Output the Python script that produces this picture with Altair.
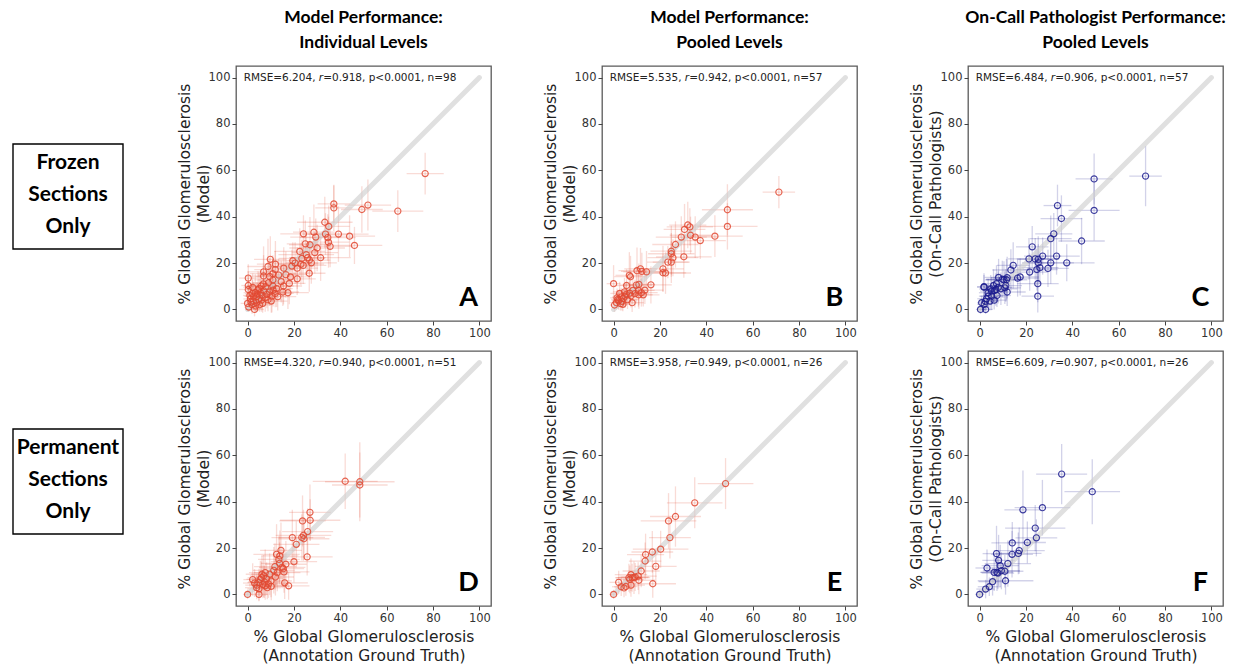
import altair as alt
import pandas as pd

TICKS = [0, 20, 40, 60, 80, 100]
RED = "#e24a33"
BLUE = "#1c1c8f"

# ---------------- Panel A (Frozen, model, individual levels) ----------------
A_x = [76.6, 64.8, 51.9, 49.3, 37.2, 37.2, 33.3, 35.0, 24.1, 28.6, 29.4, 33.6, 34.6, 39.2, 44.0, 46.1,
       35.6, 34.9, 24.9, 26.9, 25.3, 23.4, 25.9, 26.7, 27.5, 24.0, 31.5, 21.4, 21.4, 26.6, 19.1, 15.6,
       9.8, 8.8, 6.9, 6.9, 11.9, 10.9, 13.4, 9.5, 10.9, 10.9, 15.5, 18.0, 17.4, 15.2, 11.9, 10.5,
       10.2, 0.3, 0.3, 0.3, 5.9, 0.0, 2.6, 3.0, 4.0, 5.5, 6.5, 7.6, 1.9, 4.7, 8.3, 3.3, 2.6, 1.2,
       3.8, 5.2, 6.2, 7.0, 4.5, 2.0, 8.8, 9.5, 5.0, 3.5, 6.0, 1.5, 12.5, 13.0, 14.5, 16.5, 20.5,
       18.5, 22.5, 29.0, 30.0, 7.8, 2.2, 11.0, 4.2, 0.5, 9.0, 19.5, 23.0, 1.0, 6.8, 12.0]
A_y = [58.6, 42.4, 45.0, 43.1, 45.5, 43.8, 37.6, 35.8, 32.6, 33.3, 31.2, 32.5, 31.0, 32.5, 31.6, 27.6,
       27.2, 29.0, 28.3, 27.9, 23.6, 22.0, 22.3, 21.3, 20.1, 19.0, 22.3, 17.8, 13.2, 15.6, 18.7, 17.8,
       21.6, 18.5, 16.2, 14.4, 17.2, 15.4, 14.8, 14.2, 12.7, 10.1, 10.1, 11.2, 7.2, 7.5, 6.9, 5.7,
       3.6, 13.5, 10.3, 8.6, 10.1, 2.6, 3.6, 0.0, 5.7, 7.2, 2.6, 5.0, 2.1, 4.3, 6.5, 7.2, 5.7, 4.5,
       3.0, 2.0, 6.0, 8.0, 8.5, 6.8, 4.2, 7.5, 9.0, 1.5, 4.0, 3.2, 9.0, 5.5, 12.0, 15.0, 20.0,
       14.0, 25.0, 24.5, 26.5, 9.8, 9.5, 8.3, 6.5, 1.0, 11.5, 21.0, 19.5, 6.0, 11.0, 19.5]
A_xe = [8, 11, 10, 9, 7, 8, 12, 9, 10, 9, 11, 10, 12, 13, 11, 12,
        10, 9, 8, 9, 12, 10, 8, 9, 11, 10, 13, 9, 8, 7, 10, 8,
        7, 9, 7, 8, 9, 10, 9, 6, 8, 9, 8, 7, 9, 7, 8, 6,
        7, 4, 3, 4, 6, 3, 4, 4, 5, 6, 5, 6, 3, 5, 7, 5, 4, 3,
        4, 5, 5, 6, 5, 3, 6, 7, 5, 4, 4, 3, 7, 8, 7, 9, 10,
        8, 11, 10, 12, 6, 4, 6, 5, 2, 7, 9, 10, 3, 6, 8]
A_ye = [9, 9, 11, 10, 8, 10, 11, 9, 8, 12, 8, 9, 10, 12, 9, 8,
        9, 11, 10, 12, 9, 8, 7, 8, 9, 8, 10, 9, 7, 8, 7, 9,
        10, 12, 11, 9, 8, 8, 7, 8, 9, 7, 8, 9, 7, 6, 6, 7,
        5, 6, 6, 5, 7, 3, 4, 3, 6, 7, 4, 6, 4, 5, 6, 8, 6, 5,
        4, 3, 6, 7, 8, 6, 5, 6, 7, 3, 5, 3, 8, 6, 9, 10, 9,
        8, 10, 9, 10, 8, 6, 7, 5, 2, 9, 8, 9, 5, 8, 10]

# ---------------- Panel B (Frozen, model, pooled levels) ----------------
B_x = [71.3, 49.1, 49.1, 43.7, 37.4, 35.2, 33.2, 32.0, 30.6, 32.9, 29.2, 26.7, 24.9, 24.9, 25.6, 24.9,
       23.4, 30.3, 21.3, 21.3, 22.4, 11.6, 10.1, 12.2, 14.2, 6.8, 7.3, 0.0, 5.6, 10.9, 16.1, 13.5,
       12.8, 10.9, 10.7, 8.3, 4.7, 6.9, 2.6, 3.3, 1.9, 1.2, 0.4, 8.0, 5.0, 3.6, 2.2, 4.2, 6.0, 7.5,
       9.2, 3.0, 5.5, 12.0, 1.5, 4.0, 9.8]
B_y = [50.6, 43.0, 35.8, 31.6, 29.7, 31.2, 32.0, 36.4, 34.5, 35.6, 31.2, 28.0, 25.1, 24.0, 22.3, 20.4,
       20.4, 22.7, 17.5, 15.8, 15.7, 17.5, 16.7, 16.4, 16.2, 14.7, 14.1, 11.1, 10.3, 10.8, 10.6, 8.3,
       6.3, 6.3, 8.2, 8.2, 7.6, 7.0, 6.9, 5.3, 4.3, 2.9, 1.9, 2.9, 5.7, 3.5, 3.8, 4.8, 4.2, 5.8,
       6.8, 2.5, 6.5, 7.2, 5.0, 2.2, 10.5]
B_xe = [7, 11, 13, 12, 11, 10, 9, 8, 9, 10, 11, 10, 9, 10, 11, 8,
        9, 12, 9, 10, 11, 7, 8, 9, 10, 6, 7, 3, 6, 7, 9, 8,
        7, 6, 7, 6, 5, 6, 4, 4, 3, 3, 2, 5, 5, 4, 3, 4, 5, 6,
        6, 3, 5, 7, 3, 3, 7]
B_ye = [7, 11, 10, 9, 8, 9, 8, 10, 11, 8, 9, 10, 11, 9, 8, 9,
        7, 9, 10, 8, 9, 9, 10, 8, 9, 10, 9, 8, 7, 9, 8, 6,
        5, 6, 7, 6, 6, 5, 5, 4, 4, 3, 3, 4, 5, 4, 4, 4, 4, 5,
        6, 3, 5, 6, 4, 3, 8]

# ---------------- Panel C (Frozen, on-call pathologists, pooled) ----------------
C_x = [71.6, 49.4, 49.4, 33.6, 35.3, 44.0, 32.0, 30.7, 22.7, 33.2, 37.6, 30.7, 29.5, 27.2, 25.3, 24.0,
       21.3, 25.3, 26.0, 24.7, 21.6, 25.1, 25.1, 14.5, 13.5, 16.4, 11.9, 10.5, 11.6, 8.2, 10.9, 11.9,
       11.3, 1.9, 6.0, 7.3, 7.0, 9.2, 5.2, 3.7, 3.0, 4.5, 6.3, 0.9, 2.0, 2.6, 0.4, 5.2, 3.7, 1.9,
       8.0, 6.5, 4.8, 2.5, 9.8, 7.5, 17.5]
C_y = [57.5, 56.3, 42.7, 44.8, 39.2, 29.5, 32.6, 30.5, 27.0, 23.0, 20.1, 20.1, 17.7, 23.0, 21.6, 21.8,
       21.8, 20.1, 18.0, 17.2, 16.1, 11.1, 5.7, 19.0, 17.0, 13.5, 13.7, 12.8, 12.8, 13.8, 9.3, 7.5,
       10.3, 9.6, 10.3, 11.1, 8.6, 8.9, 5.7, 5.7, 4.6, 3.6, 4.0, 2.9, 2.2, 0.0, 0.0, 7.9, 7.2, 9.8,
       9.5, 8.2, 8.8, 3.5, 13.0, 6.0, 14.0]
C_xe = [7, 8, 11, 6, 9, 10, 8, 9, 7, 10, 12, 10, 9, 8, 9, 8,
        9, 7, 8, 9, 8, 9, 7, 7, 8, 9, 7, 8, 9, 6, 7, 8,
        7, 3, 5, 6, 6, 7, 5, 4, 4, 4, 5, 2, 3, 3, 2, 5, 4, 3,
        6, 5, 5, 3, 7, 6, 8]
C_ye = [13, 11, 13, 9, 10, 10, 9, 10, 9, 8, 8, 9, 8, 8, 10, 9,
        9, 8, 7, 9, 8, 8, 7, 10, 9, 8, 9, 8, 9, 8, 7, 6,
        7, 6, 7, 8, 7, 7, 6, 5, 5, 4, 4, 3, 3, 2, 2, 6, 6, 5,
        7, 6, 6, 4, 8, 5, 8]

# ---------------- Panel D (Permanent, model, individual levels) ----------------
D_x = [42.1, 48.4, 48.4, 26.9, 23.7, 27.0, 25.9, 24.1, 23.4, 24.3, 19.3, 21.0, 14.4, 12.5, 13.9, 13.5,
       25.7, 20.0, 16.5, 14.9, 15.4, 13.8, 11.3, 12.8, 15.7, 7.6, 6.9, 6.2, 9.5, 10.1, 5.5, 7.2,
       6.6, 7.6, 2.2, 3.0, 4.9, 16.0, 17.7, 10.2, 3.9, 4.9, 0.0, 4.9, 8.5, 6.0, 8.2, 11.8, 9.0,
       12.0, 4.0]
D_y = [48.8, 48.6, 47.2, 35.4, 31.7, 32.0, 27.1, 25.5, 24.6, 24.0, 24.5, 21.6, 19.0, 17.3, 16.6, 15.1,
       16.2, 14.1, 13.0, 11.7, 11.1, 13.4, 10.4, 9.4, 9.7, 9.4, 8.0, 8.7, 8.7, 5.8, 6.5, 5.4,
       4.3, 3.7, 6.4, 4.9, 5.1, 5.0, 3.7, 3.5, 2.9, 2.4, 0.0, 0.0, 2.9, 7.2, 6.8, 12.0, 4.5,
       7.5, 4.0]
D_xe = [14, 15, 12, 9, 10, 13, 11, 12, 10, 11, 9, 10, 9, 10, 8, 9,
        11, 10, 9, 10, 9, 8, 9, 10, 11, 7, 6, 7, 8, 9, 6, 7,
        6, 7, 4, 5, 5, 10, 9, 8, 5, 5, 2, 4, 6, 6, 7, 9, 7,
        8, 5]
D_ye = [12, 17, 14, 12, 11, 9, 10, 11, 10, 9, 12, 10, 12, 13, 11, 10,
        8, 9, 10, 9, 8, 9, 10, 8, 9, 10, 9, 8, 9, 7, 8, 7,
        6, 6, 7, 6, 6, 7, 6, 6, 5, 5, 2, 3, 5, 7, 7, 10, 6,
        8, 5]

# ---------------- Panel E (Permanent, model, pooled levels) ----------------
E_x = [48.3, 35.0, 26.7, 23.7, 24.3, 20.3, 16.7, 13.8, 13.6, 18.2, 11.9, 10.6, 7.5, 6.6, 8.0, 8.8,
       9.3, 10.9, 7.5, 16.9, 2.2, 3.3, 5.3, 0.0, 7.0, 4.5]
E_y = [47.8, 39.5, 33.6, 31.7, 24.5, 19.5, 18.3, 17.2, 14.4, 12.1, 10.1, 7.9, 8.5, 7.2, 7.2, 7.2,
       7.5, 6.1, 4.0, 4.6, 5.2, 3.3, 3.4, 0.0, 6.5, 2.8]
E_xe = [12, 12, 11, 12, 9, 12, 9, 8, 7, 9, 8, 8, 7, 6, 7, 7,
        6, 7, 6, 10, 4, 4, 5, 2, 6, 4]
E_ye = [11, 11, 13, 12, 9, 8, 9, 9, 8, 7, 7, 6, 7, 6, 6, 7,
        6, 6, 5, 6, 5, 4, 4, 2, 6, 4]

# ---------------- Panel F (Permanent, on-call pathologists, pooled) ----------------
F_x = [35.4, 48.6, 27.1, 18.7, 24.0, 24.5, 20.6, 14.1, 17.1, 16.7, 14.0, 12.2, 7.3, 8.2, 8.9, 3.2,
       6.3, 7.9, 9.4, 10.9, 11.2, 5.6, 4.2, 2.6, 0.0, 7.5]
F_y = [51.9, 44.3, 37.4, 36.5, 28.6, 24.4, 22.4, 22.2, 18.9, 17.7, 17.3, 13.3, 17.6, 14.7, 12.4, 11.4,
       9.5, 9.2, 10.2, 10.0, 5.9, 5.5, 3.3, 2.3, 0.0, 9.5]
F_xe = [11, 12, 12, 8, 13, 9, 8, 9, 11, 10, 9, 10, 6, 7, 8, 5,
        6, 7, 8, 8, 12, 6, 5, 4, 2, 7]
F_ye = [13, 14, 12, 17, 10, 8, 9, 9, 10, 9, 10, 10, 12, 11, 9, 8,
        8, 7, 8, 7, 6, 6, 4, 4, 2, 8]

STATS = {
    "A": ("6.204", "0.918", "98"),
    "B": ("5.535", "0.942", "57"),
    "C": ("6.484", "0.906", "57"),
    "D": ("4.320", "0.940", "51"),
    "E": ("3.958", "0.949", "26"),
    "F": ("6.609", "0.907", "26"),
}

COL_TITLES = [
    ["Model Performance:", "Individual Levels"],
    ["Model Performance:", "Pooled Levels"],
    ["On-Call Pathologist Performance:", "Pooled Levels"],
]
ROW_LABELS = [["Frozen", "Sections", "Only"], ["Permanent", "Sections", "Only"]]
DIAG = [0, 100]

# DejaVu Sans advance widths (per 1000 em) for annotation layout
DJV = {"R": 695, "M": 863, "S": 635, "E": 632, "=": 838, ".": 318, ",": 318, "<": 838,
       " ": 318, "p": 635, "n": 634, "r": 411}
for d in "0123456789":
    DJV[d] = 636


def tw(s, size):
    return sum(DJV[c] for c in s) / 1000.0 * size


ANN_SIZE = 10.5
SC = alt.Scale(domain=[-5, 105], nice=False, zero=False)


def panel(xs, ys, xe, ye, color, letter, ytitle2, col_title=None, bottom=False):
    df = pd.DataFrame({"x": xs, "y": ys, "xe": xe, "ye": ye})
    df["x_lo"] = df["x"] - df["xe"]
    df["x_hi"] = df["x"] + df["xe"]
    df["y_lo"] = df["y"] - df["ye"]
    df["y_hi"] = df["y"] + df["ye"]

    xaxis = alt.Axis(values=TICKS, title=["% Global Glomerulosclerosis", "(Annotation Ground Truth)"] if bottom else None,
                     titlePadding=6)
    yaxis = alt.Axis(values=TICKS, title=["% Global Glomerulosclerosis", ytitle2], titlePadding=-3)

    X = lambda f: alt.X(f, type="quantitative", scale=SC, axis=xaxis)
    Y = lambda f: alt.Y(f, type="quantitative", scale=SC, axis=yaxis)

    base = alt.Chart(df)
    hbar = base.mark_rule(color=color, opacity=0.2, strokeWidth=1.3, clip=True).encode(
        x=X("x_lo"), x2="x_hi", y=Y("y"))
    vbar = base.mark_rule(color=color, opacity=0.2, strokeWidth=1.3, clip=True).encode(
        x=X("x"), y=Y("y_lo"), y2="y_hi")
    diag = alt.Chart(pd.DataFrame({"x": DIAG, "y": DIAG})).mark_line(
        color="#cfcfcf", opacity=0.65, strokeWidth=5, strokeCap="round").encode(x=X("x"), y=Y("y"))
    pts = base.mark_point(shape="circle", filled=False, size=38, strokeWidth=1.15,
                          color=color, opacity=0.85).encode(x=X("x"), y=Y("y"))

    rmse, r, n = STATS[letter]
    p1 = "RMSE=%s, " % rmse
    p2 = "r"
    p3 = "=%s, p<0.0001, n=%s" % (r, n)
    w1 = tw(p1, ANN_SIZE)
    w2 = tw(p2, ANN_SIZE)
    ann = alt.Chart(pd.DataFrame({"x": [-1.7, -1.7, -1.7], "y": [100, 100, 100], "t": [p1, p2, p3],
                                  "dx": [0, w1, w1 + w2], "st": ["normal", "italic", "normal"]}))
    t1 = ann.transform_filter(alt.datum.st == "normal").transform_filter(alt.datum.dx == 0).mark_text(
        align="left", baseline="middle", font="DejaVu Sans", fontSize=ANN_SIZE, color="#222").encode(
        x=X("x"), y=Y("y"), text="t:N")
    t2 = ann.transform_filter(alt.datum.st == "italic").mark_text(
        align="left", baseline="middle", font="DejaVu Sans", fontSize=ANN_SIZE, fontStyle="italic",
        color="#222", dx=w1).encode(x=X("x"), y=Y("y"), text="t:N")
    t3 = ann.transform_filter(alt.datum.dx > w1).mark_text(
        align="left", baseline="middle", font="DejaVu Sans", fontSize=ANN_SIZE, color="#222",
        dx=w1 + w2).encode(x=X("x"), y=Y("y"), text="t:N")

    let = alt.Chart(pd.DataFrame({"x": [95.3], "y": [5.0], "t": [letter]})).mark_text(
        font="Lato", fontWeight="bold", fontSize=27, color="black", align="center", baseline="middle").encode(
        x=X("x"), y=Y("y"), text="t:N")

    props = dict(width=255, height=255,
                 view=alt.ViewBackground(stroke="#5a5a5a", strokeWidth=1.3))
    if col_title is not None:
        props["title"] = alt.TitleParams(text=col_title, font="Lato", fontSize=17.5, fontWeight="bold",
                                         color="black", anchor="middle", offset=15, lineHeight=25)
    return alt.layer(hbar, vbar, diag, pts, t1, t2, t3, let).properties(**props)


def row_label(lines):
    # boxed row label; the box sits beside the middle of the panel row
    df = pd.DataFrame({"t": [lines]})
    box = alt.Chart(df).mark_rect(fill="white", stroke="black", strokeWidth=1.4).encode(
        x=alt.value(0), x2=alt.value(110), y=alt.value(78), y2=alt.value(183))
    txt = alt.Chart(df).mark_text(font="Lato", fontWeight="bold", fontSize=21, lineHeight=32,
                                  color="black", align="center", baseline="middle").encode(
        x=alt.value(55), y=alt.value(97), text="t:N")
    return alt.layer(box, txt).properties(width=112, height=255,
                                          view=alt.ViewBackground(stroke=None))


YM = "(Model)"
YP = "(On-Call Pathologists)"

chart = alt.concat(
    row_label(ROW_LABELS[0]),
    panel(A_x, A_y, A_xe, A_ye, RED, "A", YM, COL_TITLES[0]),
    panel(B_x, B_y, B_xe, B_ye, RED, "B", YM, COL_TITLES[1]),
    panel(C_x, C_y, C_xe, C_ye, BLUE, "C", YP, COL_TITLES[2]),
    row_label(ROW_LABELS[1]),
    panel(D_x, D_y, D_xe, D_ye, RED, "D", YM, bottom=True),
    panel(E_x, E_y, E_xe, E_ye, RED, "E", YM, bottom=True),
    panel(F_x, F_y, F_xe, F_ye, BLUE, "F", YP, bottom=True),
    columns=4,
    spacing={"row": 30, "column": 111},
    bounds="flush",
).properties(
    padding={"left": 12, "top": 7, "right": 0, "bottom": 0},
    background="white",
).configure_axis(
    grid=False, domain=False,
    labelFont="DejaVu Sans", labelFontSize=11.5, labelColor="#333333", labelPadding=2,
    tickColor="#444444", tickSize=4, tickWidth=1,
    titleFont="DejaVu Sans", titleFontSize=15.5, titleFontWeight="normal", titleColor="#222222",
    titleLineHeight=19,
)

chart.save("out.html", embed_options={"renderer": "svg", "actions": False})
